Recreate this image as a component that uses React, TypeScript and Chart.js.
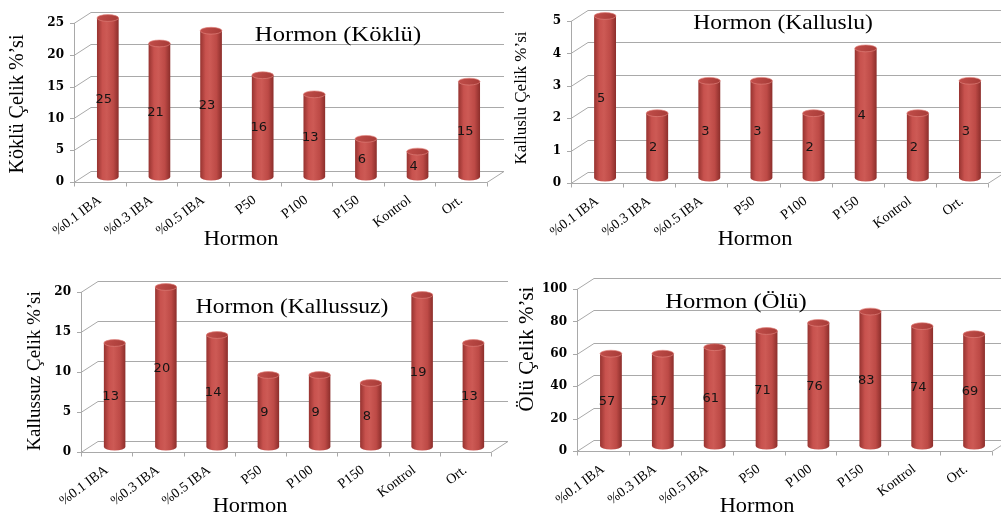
import React, { useEffect, useRef } from "react";
import { Chart, registerables } from "chart.js";

Chart.register(...registerables);

// ---------- data ----------
const categories = ["%0.1 IBA", "%0.3 IBA", "%0.5 IBA", "P50", "P100", "P150", "Kontrol", "Ort."];
const kokluValues = [25, 21, 23, 16, 13, 6, 4, 15];
const kalusluValues = [5, 2, 3, 3, 2, 4, 2, 3];
const kallussuzValues = [13, 20, 14, 9, 9, 8, 19, 13];
const oluValues = [57, 57, 61, 71, 76, 83, 74, 69];

const kokluAxis = { max: 25, step: 5 };
const kalusluAxis = { max: 5, step: 1 };
const kallussuzAxis = { max: 20, step: 5 };
const oluAxis = { max: 100, step: 20 };

const xAxisTitle = "Hormon";
const panelTitles = ["Hormon (Köklü)", "Hormon (Kalluslu)", "Hormon (Kallussuz)", "Hormon (Ölü)"];
const yAxisTitles = ["Köklü Çelik %’si", "Kalluslu Çelik %’si", "Kallussuz Çelik %’si", "Ölü Çelik %’si"];

// ---------- style ----------
const DEPTH_X = 17;
const DEPTH_Y = -11;
const BAR_SHIFT_X = 8;
const BAR_SHIFT_Y = -5;
const BAR_PCT = 0.42;
const GRID_COLOR = "#a9a9a9";
const SERIF = "'Liberation Serif', 'Times New Roman', serif";
const STRETCH = 1.12;

type PanelSpec = {
  left: number;
  top: number;
  width: number;
  height: number;
  area: { l: number; r: number; t: number; b: number };
  values: number[];
  axis: { max: number; step: number };
  title: string;
  titlePos: [number, number];
  titleSize: number;
  yTitle: string;
  yTitlePos: [number, number];
  yTitleSize: number;
  xTitlePos: [number, number];
};

const panels: PanelSpec[] = [
  {
    left: 0, top: 0, width: 510, height: 258,
    area: { l: 74, r: 487, t: 23, b: 182 },
    values: kokluValues, axis: kokluAxis,
    title: panelTitles[0], titlePos: [338, 35], titleSize: 22,
    yTitle: yAxisTitles[0], yTitlePos: [18, 104], yTitleSize: 20,
    xTitlePos: [241, 240],
  },
  {
    left: 500, top: 0, width: 501, height: 258,
    area: { l: 71, r: 488, t: 21, b: 183 },
    values: kalusluValues, axis: kalusluAxis,
    title: panelTitles[1], titlePos: [283, 23], titleSize: 21,
    yTitle: yAxisTitles[1], yTitlePos: [22, 98], yTitleSize: 17,
    xTitlePos: [255, 240],
  },
  {
    left: 0, top: 260, width: 510, height: 256,
    area: { l: 81, r: 491, t: 32, b: 192 },
    values: kallussuzValues, axis: kallussuzAxis,
    title: panelTitles[2], titlePos: [292, 47], titleSize: 21,
    yTitle: yAxisTitles[2], yTitlePos: [35, 111], yTitleSize: 19,
    xTitlePos: [250, 247],
  },
  {
    left: 500, top: 260, width: 501, height: 256,
    area: { l: 77, r: 492, t: 29, b: 191 },
    values: oluValues, axis: oluAxis,
    title: panelTitles[3], titlePos: [236, 42], titleSize: 22,
    yTitle: yAxisTitles[3], yTitlePos: [27, 89], yTitleSize: 21,
    xTitlePos: [257, 247],
  },
];

function bodyGradient(ctx: CanvasRenderingContext2D, cx: number, w: number): any {
  if (!isFinite(cx) || !isFinite(w) || w <= 0) return "#c0504d";
  const g = ctx.createLinearGradient(cx - w / 2, 0, cx + w / 2, 0);
  g.addColorStop(0, "#973330");
  g.addColorStop(0.25, "#c8524e");
  g.addColorStop(0.45, "#cd5a55");
  g.addColorStop(0.75, "#bd4a46");
  g.addColorStop(1, "#8c2e2b");
  return g;
}

function buildConfig(s: PanelSpec): any {
  const a = s.area;

  const plugin = {
    id: "hormon3d",
    beforeDatasetsDraw(chart: any) {
      const { ctx, chartArea: ca, scales } = chart;
      const xs = scales.x;
      const ys = scales.y;
      ctx.save();
      ctx.strokeStyle = GRID_COLOR;
      ctx.lineWidth = 1;
      ys.ticks.forEach((t: any) => {
        const yy = Math.round(ys.getPixelForValue(t.value)) + 0.5;
        ctx.beginPath();
        ctx.moveTo(ca.left - 4, yy);
        ctx.lineTo(ca.left, yy);
        ctx.lineTo(ca.left + DEPTH_X, yy + DEPTH_Y);
        ctx.lineTo(ca.right + DEPTH_X, yy + DEPTH_Y);
        ctx.stroke();
      });
      const lx = Math.round(ca.left) + 0.5;
      ctx.beginPath();
      ctx.moveTo(lx, ca.top);
      ctx.lineTo(lx, ca.bottom);
      ctx.stroke();
      const by = Math.round(ca.bottom) + 0.5;
      ctx.beginPath();
      ctx.moveTo(ca.left, by);
      ctx.lineTo(ca.right, by);
      ctx.lineTo(ca.right + DEPTH_X, by + DEPTH_Y);
      ctx.stroke();
      const step = xs.getPixelForValue(1) - xs.getPixelForValue(0);
      for (let i = 0; i <= categories.length; i++) {
        const xx = Math.round(xs.getPixelForValue(i) - step / 2) + 0.5;
        ctx.beginPath();
        ctx.moveTo(xx, by);
        ctx.lineTo(xx, by + 4);
        ctx.stroke();
      }
      ctx.restore();
      ctx.save();
      ctx.translate(BAR_SHIFT_X, BAR_SHIFT_Y);
    },
    afterDatasetsDraw(chart: any) {
      const { ctx } = chart;
      const meta = chart.getDatasetMeta(0);
      meta.data.forEach((el: any) => {
        const p = el.getProps(["x", "y", "base", "width"], true);
        const rx = p.width / 2;
        const ry = 3.4;
        ctx.fillStyle = bodyGradient(ctx, p.x, p.width);
        ctx.beginPath();
        ctx.ellipse(p.x, p.base, rx, ry, 0, 0, Math.PI);
        ctx.fill();
        const g = ctx.createLinearGradient(p.x - rx, p.y - ry, p.x + rx, p.y + ry);
        g.addColorStop(0, "#c24e4a");
        g.addColorStop(1, "#a63b37");
        ctx.fillStyle = g;
        ctx.beginPath();
        ctx.ellipse(p.x, p.y, rx, ry, 0, 0, Math.PI * 2);
        ctx.fill();
        ctx.strokeStyle = "rgba(225,130,125,0.8)";
        ctx.lineWidth = 0.8;
        ctx.stroke();
      });
      ctx.restore();
      ctx.save();
      ctx.font = "13px 'DejaVu Sans', sans-serif";
      ctx.fillStyle = "#141414";
      ctx.textAlign = "center";
      ctx.textBaseline = "middle";
      const data = chart.data.datasets[0].data;
      meta.data.forEach((el: any, i: number) => {
        const p = el.getProps(["x", "y", "base"], true);
        ctx.fillText(String(data[i]), p.x + 4, (p.y + p.base) / 2 - 3);
      });
      ctx.restore();
    },
    afterDraw(chart: any) {
      const { ctx } = chart;
      ctx.save();
      ctx.fillStyle = "#000";
      ctx.textAlign = "center";
      ctx.textBaseline = "middle";
      ctx.save();
      ctx.translate(s.titlePos[0], s.titlePos[1]);
      ctx.scale(STRETCH, 1);
      ctx.font = `${s.titleSize}px ${SERIF}`;
      ctx.fillText(s.title, 0, 0);
      ctx.restore();
      ctx.save();
      ctx.translate(s.xTitlePos[0], s.xTitlePos[1]);
      ctx.scale(STRETCH, 1);
      ctx.font = `20px ${SERIF}`;
      ctx.fillText(xAxisTitle, 0, 0);
      ctx.restore();
      ctx.save();
      ctx.translate(s.yTitlePos[0], s.yTitlePos[1]);
      ctx.rotate(-Math.PI / 2);
      ctx.font = `${s.yTitleSize}px ${SERIF}`;
      ctx.fillText(s.yTitle, 0, 0);
      ctx.restore();
      ctx.restore();
    },
  };

  return {
    type: "bar",
    data: {
      labels: categories,
      datasets: [
        {
          data: s.values,
          backgroundColor: (c: any) => {
            const xs = c.chart.scales && c.chart.scales.x;
            if (!xs || c.dataIndex == null) return "#c0504d";
            const cx = xs.getPixelForValue(c.dataIndex);
            const w = (xs.getPixelForValue(1) - xs.getPixelForValue(0)) * BAR_PCT;
            return bodyGradient(c.chart.ctx, cx, w);
          },
          borderWidth: 0,
          barPercentage: BAR_PCT,
          categoryPercentage: 1,
          clip: false,
        },
      ],
    },
    options: {
      responsive: false,
      animation: false,
      devicePixelRatio: 1,
      events: [],
      layout: { padding: { left: 0, top: a.t, right: s.width - a.r, bottom: 0 } },
      plugins: {
        legend: { display: false },
        tooltip: { enabled: false },
        title: { display: false },
      },
      scales: {
        x: {
          type: "category",
          offset: true,
          grid: { display: false, drawTicks: false },
          border: { display: false },
          ticks: {
            font: { family: SERIF, size: 14 },
            color: "#000",
            minRotation: 37,
            maxRotation: 37,
            padding: 10,
            autoSkip: false,
          },
          afterFit: (sc: any) => {
            sc.height = s.height - a.b;
          },
        },
        y: {
          min: 0,
          max: s.axis.max,
          grid: { display: false, drawTicks: false },
          border: { display: false },
          ticks: {
            stepSize: s.axis.step,
            font: { family: "'DejaVu Serif', serif", size: 12, weight: "bold" },
            color: "#000",
            padding: 10,
          },
          afterFit: (sc: any) => {
            sc.width = a.l;
          },
        },
      },
    },
    plugins: [plugin],
  };
}

function Panel({ spec }: { spec: PanelSpec }) {
  const ref = useRef<HTMLCanvasElement>(null);
  useEffect(() => {
    const canvas = ref.current;
    if (!canvas) return;
    const chart = new Chart(canvas, buildConfig(spec));
    return () => chart.destroy();
  }, [spec]);
  return (
    <canvas
      ref={ref}
      width={spec.width}
      height={spec.height}
      style={{ position: "absolute", left: spec.left, top: spec.top, width: spec.width, height: spec.height }}
    />
  );
}

export default function App() {
  return (
    <div style={{ position: "fixed", left: 0, top: 0, width: 1001, height: 516, background: "#fff", overflow: "hidden" }}>
      {panels.map((p, i) => (
        <Panel key={i} spec={p} />
      ))}
    </div>
  );
}
